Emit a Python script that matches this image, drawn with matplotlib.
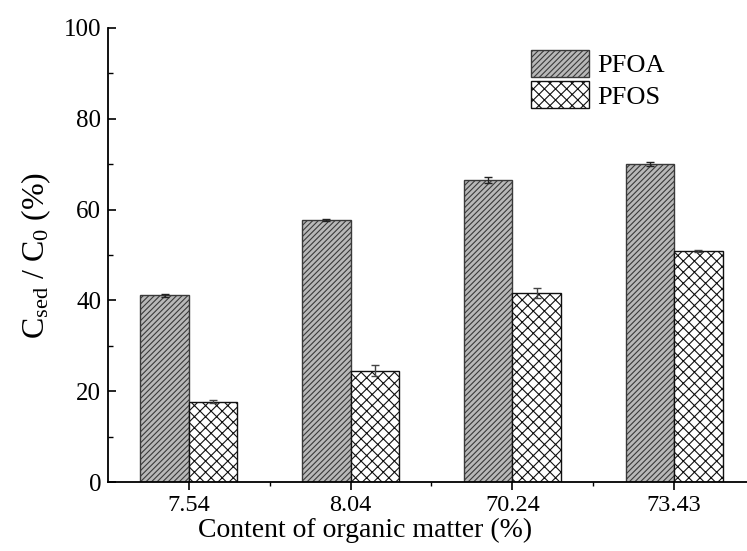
import matplotlib
matplotlib.use("Agg")
import matplotlib.pyplot as plt
from matplotlib.ticker import MultipleLocator, FixedLocator
import numpy as np

# data
categories = ["7.54", "8.04", "70.24", "73.43"]
pfoa = [41.1, 57.7, 66.5, 70.0]
pfoa_err = [0.4, 0.3, 0.6, 0.4]
pfos = [17.7, 24.5, 41.7, 50.9]
pfos_err = [0.4, 1.2, 1.1, 0.3]

plt.rcParams["font.family"] = ["Liberation Serif", "DejaVu Serif"]
plt.rcParams["mathtext.fontset"] = "custom"
plt.rcParams["mathtext.rm"] = "Liberation Serif"
plt.rcParams["mathtext.it"] = "Liberation Serif:italic"
plt.rcParams["hatch.linewidth"] = 0.8

fig = plt.figure(figsize=(7.47, 5.51), dpi=100)
ax = fig.add_axes([0.1446, 0.1252, 0.866, 0.824])

x = np.arange(len(categories))
w = 0.3
ax.bar(x - w / 2, pfoa, w, yerr=pfoa_err, color="#b8b8b8", edgecolor="#3a3a3a",
       hatch="//////", linewidth=1.0, label="PFOA",
       error_kw=dict(ecolor="#222222", elinewidth=1.0, capsize=3, capthick=1.0))
ax.bar(x + w / 2, pfos, w, yerr=pfos_err, color="white", edgecolor="#111111",
       hatch="xxx", linewidth=1.0, label="PFOS",
       error_kw=dict(ecolor="#444444", elinewidth=1.0, capsize=3, capthick=1.0))

ax.set_xlim(-0.5, 3.5)
ax.set_ylim(0, 100)
ax.set_xticks(x)
ax.set_xticklabels(categories)
ax.xaxis.set_minor_locator(FixedLocator([0.5, 1.5, 2.5]))
ax.yaxis.set_major_locator(MultipleLocator(20))
ax.yaxis.set_minor_locator(MultipleLocator(10))

ax.spines["top"].set_visible(False)
ax.spines["right"].set_visible(False)
for s in ("left", "bottom"):
    ax.spines[s].set_linewidth(1.3)

ax.tick_params(axis="y", which="major", direction="in", length=6, width=1.2,
               labelsize=18, pad=5)
ax.tick_params(axis="y", which="minor", direction="in", length=3.5, width=1.0)
ax.tick_params(axis="x", which="major", direction="out", length=6, width=1.2,
               labelsize=17.5, pad=3)
ax.tick_params(axis="x", which="minor", direction="out", length=3, width=1.0)

ax.set_ylabel(r"C$_{\mathregular{sed}}$ / C$_{\mathregular{0}}$ (%)", fontsize=23)
ax.yaxis.set_label_coords(-0.085, 0.5)
ax.set_xlabel("Content of organic matter (%)", fontsize=20)
ax.xaxis.set_label_coords(0.397, -0.08)

ax.legend(loc="upper left", bbox_to_anchor=(531 / 747, 1 - 50 / 551),
          bbox_transform=fig.transFigure, frameon=False,
          fontsize=19, handlelength=2.2, handleheight=1.2, handletextpad=0.3,
          labelspacing=0.15, borderpad=0, borderaxespad=0)

fig.savefig("out.png", dpi=100)
